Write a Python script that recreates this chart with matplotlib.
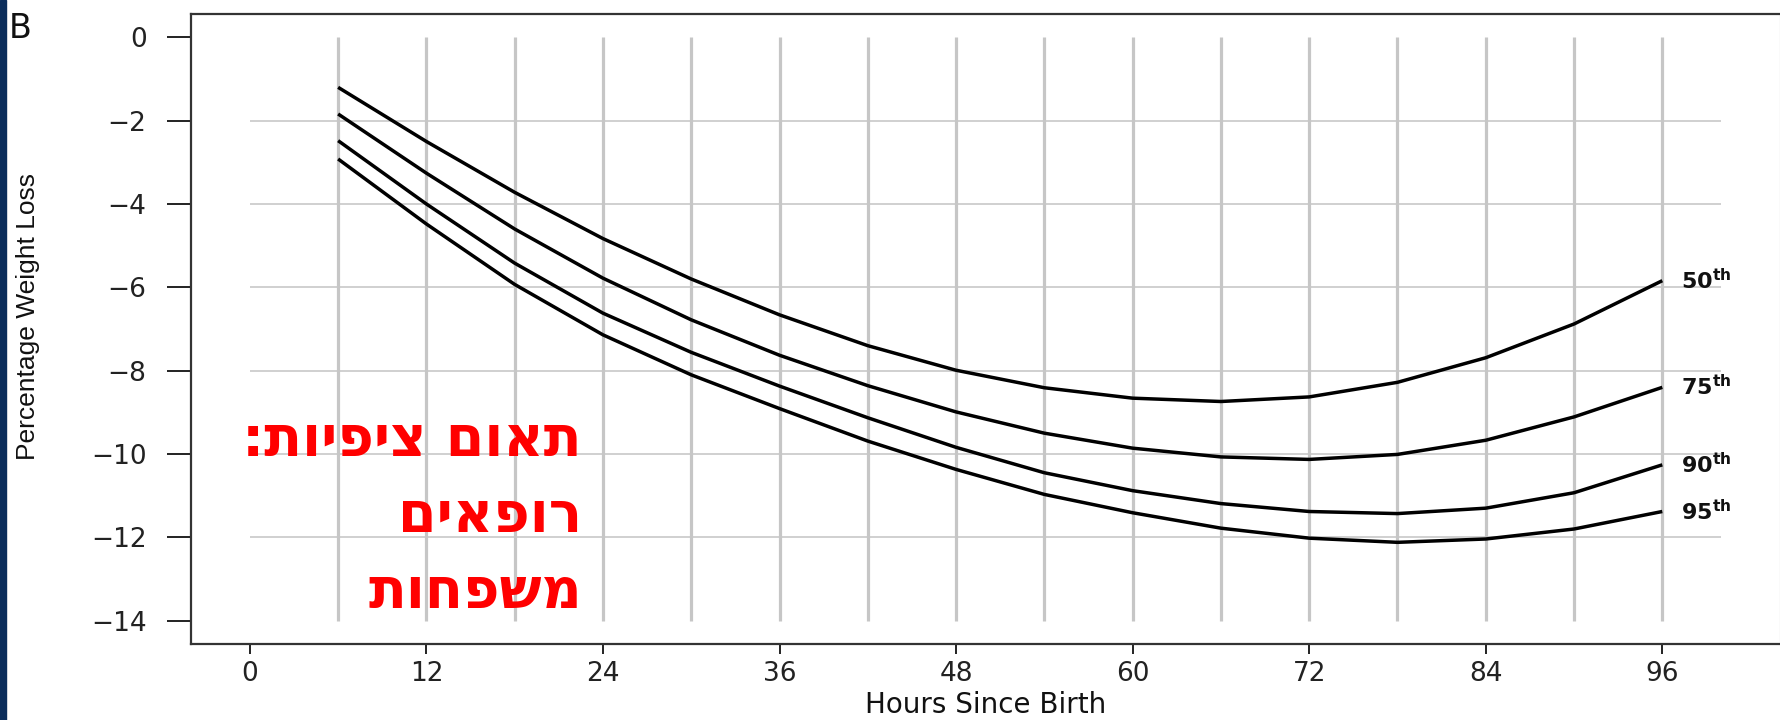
import numpy as np
import matplotlib
matplotlib.use('Agg')
import matplotlib.pyplot as plt
from matplotlib.patches import Rectangle

#%% data
hours = [6, 12, 18, 24, 30, 36, 42, 48, 54, 60, 66, 72, 78, 84, 90, 96]
p50 = [-1.20, -2.50, -3.72, -4.83, -5.80, -6.66, -7.40, -7.99, -8.41, -8.66, -8.74, -8.63, -8.28, -7.69, -6.88, -5.84]
p75 = [-1.84, -3.26, -4.60, -5.78, -6.78, -7.63, -8.36, -8.99, -9.50, -9.86, -10.07, -10.13, -10.01, -9.67, -9.11, -8.40]
p90 = [-2.48, -4.00, -5.42, -6.62, -7.56, -8.37, -9.13, -9.84, -10.45, -10.88, -11.19, -11.38, -11.43, -11.30, -10.93, -10.26]
p95 = [-2.92, -4.48, -5.93, -7.14, -8.10, -8.91, -9.69, -10.37, -10.97, -11.41, -11.78, -12.02, -12.12, -12.04, -11.80, -11.38]
labels = ['50', '75', '90', '95']

x_ticks = [0, 12, 24, 36, 48, 60, 72, 84, 96]
y_ticks = [0, -2, -4, -6, -8, -10, -12, -14]
hgrid_y = [-2, -4, -6, -8, -10, -12]
vgrid_x = hours

hebrew = ['תאום ציפיות:', 'רופאים', 'משפחות']

#%% figure
plt.rcParams['font.family'] = ['DejaVu Sans']
plt.rcParams['mathtext.fontset'] = 'dejavusans'

fig = plt.figure(figsize=(17.81, 7.2), dpi=100)
fig.patches.append(Rectangle((0, 0), 6 / 1781, 1, transform=fig.transFigure,
                             color='#0b2d5b', zorder=0))
ax = fig.add_axes([191 / 1781, 76 / 720, 1589 / 1781, 630 / 720])

# grid segments like the R plot
ax.hlines(hgrid_y, 0, 100, color='#d0d0d0', lw=1.4, zorder=1)
ax.vlines(vgrid_x, -14, 0, color='#c6c6c6', lw=2.3, zorder=1)

for vals, lab in zip([p50, p75, p90, p95], labels):
    ax.plot(hours, vals, color='black', lw=2.5, zorder=3, solid_capstyle='butt')
    ax.text(hours[-1] + 1.3, vals[-1] - 0.2, r'$\mathbf{%s^{th}}$' % lab,
            fontsize=16, ha='left', va='baseline', color='#111111')

ax.set_xlim(-4, 104)
ax.set_ylim(-14.56, 0.56)
ax.set_xticks(x_ticks)
ax.set_yticks(y_ticks)
ax.set_xticklabels([str(t) for t in x_ticks])
ax.set_yticklabels(['0' if t == 0 else '\u2212' + str(-t) for t in y_ticks])
ax.tick_params(axis='x', length=7.5, width=1.4, pad=5, labelsize=19, colors='#222222')
ax.tick_params(axis='y', length=17, width=1.4, pad=15, labelsize=19, colors='#222222')

for side in ['left', 'bottom', 'top']:
    ax.spines[side].set_color('#333333')
    ax.spines[side].set_linewidth(1.6)
ax.spines['right'].set_color('#e6e6e6')
ax.spines['right'].set_linewidth(1.0)

ax.set_xlabel('Hours Since Birth', fontsize=20, color='#111111')
ax.xaxis.set_label_coords(0.5, -0.075)
ax.set_ylabel('Percentage Weight Loss', fontsize=19, color='#111111',
              family=['Liberation Sans'])
ax.yaxis.set_label_coords(-0.095, 0.52)

fig.text(9 / 1781, 1 - 12 / 720, 'B', fontsize=24, ha='left', va='top', color='#111111')

# Hebrew note, reversed for left-to-right drawing
for i, line in enumerate(hebrew):
    fig.text(582 / 1781, 1 - (441 + 76 * i) / 720, line[::-1], fontsize=40,
             fontweight='bold', color='#ff0000', ha='right', va='center')

fig.savefig('out.png', dpi=100, facecolor='white')
